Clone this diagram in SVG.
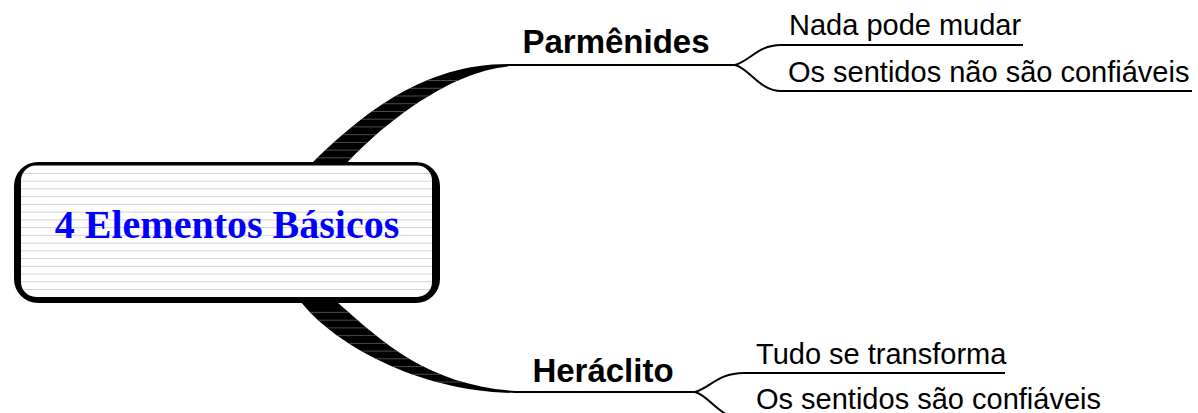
<svg xmlns="http://www.w3.org/2000/svg" width="1198" height="413" viewBox="0 0 1198 413">
  <style>
    .main { font-family: "Liberation Serif", "Times New Roman", serif; font-weight: bold; font-size: 40px; fill: #0000ff; }
    .topic { font-family: "Liberation Sans", Arial, sans-serif; font-weight: bold; font-size: 33px; fill: #000; }
    .sub { font-family: "Liberation Sans", Arial, sans-serif; font-size: 29px; fill: #000; }
    .uline { stroke: #000; stroke-width: 2; fill: none; }
    .branch { stroke: #000; stroke-width: 2; fill: none; }
    .gw { stroke: #d4d4d4; stroke-width: 1; }
    .gb { stroke: #4a4a4a; stroke-width: 1; }
  </style>
  <defs>
    <path id="upConn" d="M311,164 C364,112 425,64 508,64 L508,66.5 C450,72 385,122 346,164 Z"/>
    <path id="lowConn" d="M337,302 C385,345 430,385 515,391 L515,393 C420,392 335,345 301,302 Z"/>
    <clipPath id="clipUp"><use href="#upConn"/></clipPath>
    <clipPath id="clipLow"><use href="#lowConn"/></clipPath>
    <clipPath id="clipBox"><rect x="21" y="165.5" width="411" height="131.5" rx="15" ry="15"/></clipPath>
  </defs>

  <g id="connectors">
    <use href="#upConn" fill="#000"/>
    <g clip-path="url(#clipUp)" class="gb">
      <line x1="300" y1="157.8" x2="520" y2="157.8"/>
      <line x1="300" y1="150.1" x2="520" y2="150.1"/>
      <line x1="300" y1="142.4" x2="520" y2="142.4"/>
      <line x1="300" y1="134.7" x2="520" y2="134.7"/>
      <line x1="300" y1="126.9" x2="520" y2="126.9"/>
      <line x1="300" y1="119.2" x2="520" y2="119.2"/>
      <line x1="300" y1="111.5" x2="520" y2="111.5"/>
      <line x1="300" y1="103.7" x2="520" y2="103.7"/>
      <line x1="300" y1="96.0" x2="520" y2="96.0"/>
      <line x1="300" y1="88.3" x2="520" y2="88.3"/>
      <line x1="300" y1="80.5" x2="520" y2="80.5"/>
    </g>
    <use href="#lowConn" fill="#000"/>
    <g clip-path="url(#clipLow)" class="gb">
      <line x1="290" y1="312.4" x2="520" y2="312.4"/>
      <line x1="290" y1="320.2" x2="520" y2="320.2"/>
      <line x1="290" y1="327.9" x2="520" y2="327.9"/>
      <line x1="290" y1="335.6" x2="520" y2="335.6"/>
      <line x1="290" y1="343.4" x2="520" y2="343.4"/>
      <line x1="290" y1="351.1" x2="520" y2="351.1"/>
      <line x1="290" y1="358.8" x2="520" y2="358.8"/>
      <line x1="290" y1="366.6" x2="520" y2="366.6"/>
      <line x1="290" y1="374.3" x2="520" y2="374.3"/>
      <line x1="290" y1="382.0" x2="520" y2="382.0"/>
    </g>
    <!-- Parmênides fork -->
    <path class="branch" d="M726,65 L735,65 C750,61 758,45 781,45"/>
    <path class="branch" d="M735,65 C750,69 760,91 781,91"/>
    <!-- Heráclito fork -->
    <path class="branch" d="M688,392 L695,392 C710,388 718,373 744,373"/>
    <path class="branch" d="M695,392 C710,396 720,419 744,419"/>
  </g>

  <g id="node-main">
    <rect x="14" y="162" width="426" height="141" rx="24" ry="24" fill="#000"/>
    <rect x="21" y="165.5" width="411" height="131.5" rx="15" ry="15" fill="#fff"/>
    <g clip-path="url(#clipBox)" class="gw">
      <line x1="20" y1="173.5" x2="435" y2="173.5"/>
      <line x1="20" y1="181.2" x2="435" y2="181.2"/>
      <line x1="20" y1="188.9" x2="435" y2="188.9"/>
      <line x1="20" y1="196.7" x2="435" y2="196.7"/>
      <line x1="20" y1="204.4" x2="435" y2="204.4"/>
      <line x1="20" y1="212.1" x2="435" y2="212.1"/>
      <line x1="20" y1="219.9" x2="435" y2="219.9"/>
      <line x1="20" y1="227.6" x2="435" y2="227.6"/>
      <line x1="20" y1="235.3" x2="435" y2="235.3"/>
      <line x1="20" y1="243.1" x2="435" y2="243.1"/>
      <line x1="20" y1="250.8" x2="435" y2="250.8"/>
      <line x1="20" y1="258.5" x2="435" y2="258.5"/>
      <line x1="20" y1="266.3" x2="435" y2="266.3"/>
      <line x1="20" y1="274.0" x2="435" y2="274.0"/>
      <line x1="20" y1="281.7" x2="435" y2="281.7"/>
      <line x1="20" y1="289.5" x2="435" y2="289.5"/>
    </g>
    <text class="main" x="227" y="238" text-anchor="middle">4 Elementos Básicos</text>
  </g>

  <g id="node-parmenides">
    <line class="uline" x1="507" y1="65" x2="727" y2="65"/>
    <text class="topic" x="616" y="53" text-anchor="middle">Parmênides</text>
  </g>

  <g id="node-nada">
    <line class="uline" x1="780" y1="45" x2="1023" y2="45"/>
    <text class="sub" x="789" y="35">Nada pode mudar</text>
  </g>

  <g id="node-sentidos-nao">
    <line class="uline" x1="780" y1="91" x2="1192" y2="91"/>
    <text class="sub" x="788" y="82">Os sentidos não são confiáveis</text>
  </g>

  <g id="node-heraclito">
    <line class="uline" x1="514" y1="392" x2="690" y2="392"/>
    <text class="topic" x="603" y="382" text-anchor="middle">Heráclito</text>
  </g>

  <g id="node-tudo">
    <line class="uline" x1="743" y1="373" x2="1005" y2="373"/>
    <text class="sub" x="756" y="364">Tudo se transforma</text>
  </g>

  <g id="node-sentidos">
    <line class="uline" x1="743" y1="419" x2="1145" y2="419"/>
    <text class="sub" x="756" y="409">Os sentidos são confiáveis</text>
  </g>
</svg>
